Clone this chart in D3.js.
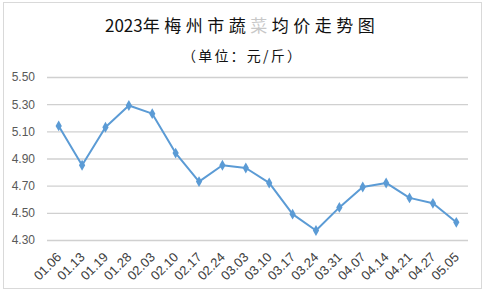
<!DOCTYPE html>
<html>
<head>
<meta charset="utf-8">
<script src="https://cdn.jsdelivr.net/npm/d3@7"></script>
<style>
  html, body { margin: 0; padding: 0; background: #fff; }
  svg { display: block; }
</style>
</head>
<body>
<div id="chart"></div>
<script>
const dates = ['01.06', '01.13', '01.19', '01.28', '02.03', '02.10', '02.17', '02.24', '03.03',
    '03.10', '03.17', '03.24', '03.31', '04.07', '04.14', '04.21', '04.27', '05.05'];
const prices = [5.14, 4.85, 5.13, 5.29, 5.23, 4.94, 4.73, 4.85, 4.83,
    4.72, 4.49, 4.37, 4.54, 4.69, 4.72, 4.61, 4.57, 4.43];
const yTicks = [4.30, 4.50, 4.70, 4.90, 5.10, 5.30, 5.50];

const width = 485;
const height = 293;
const margins = { left: 47, right: 17, top: 77, bottom: 53 };

const svg = d3.select('#chart')
    .append('svg')
    .attr('width', width)
    .attr('height', height);

svg.append('rect')
    .attr('x', 3.5)
    .attr('y', 2.5)
    .attr('width', 478)
    .attr('height', 286)
    .attr('fill', '#fff')
    .attr('stroke', '#d9d9d9');

// title, the 菜 glyph is washed out in the original
const title = svg.append('text')
    .attr('x', 105)
    .attr('y', 32)
    .style('font-family', '"Noto Sans CJK SC", sans-serif')
    .style('font-size', '17px')
    .attr('fill', '#111');
title.append('tspan').text('2023年');
title.append('tspan').attr('dx', 4.5).style('letter-spacing', '4.5px').text('梅州市蔬');
title.append('tspan').attr('fill', '#c8c8c8').style('letter-spacing', '4.5px').text('菜');
title.append('tspan').style('letter-spacing', '4.5px').text('均价走势图');

svg.append('text')
    .attr('x', 182)
    .attr('y', 61)
    .style('font-family', '"Noto Sans CJK SC", sans-serif')
    .style('font-size', '14px')
    .style('letter-spacing', '2.2px')
    .attr('fill', '#111')
    .text('（单位：元/斤）');

const chartWidth = width - margins.left - margins.right;

const chart = svg.append('g')
    .attr('transform', `translate(${margins.left}, ${margins.top})`);

const xScale = d3.scalePoint()
    .domain(dates)
    .range([0, chartWidth])
    .padding(0.5);

const yScale = d3.scaleLinear()
    .domain([4.30, 5.50])
    .range([163, 0]);

const yGridLines = d3.axisLeft()
    .scale(yScale)
    .tickValues(yTicks)
    .tickSize(-chartWidth)
    .tickFormat('');

chart.append('g')
    .call(yGridLines)
    .call(g => g.select('.domain').remove())
    .call(g => g.selectAll('line').attr('stroke', '#d0d0d0').attr('stroke-width', 1.3));

const yAxis = d3.axisLeft()
    .scale(yScale)
    .tickValues(yTicks)
    .tickSize(0)
    .tickPadding(12)
    .tickFormat(d3.format('.2f'));

chart.append('g')
    .call(yAxis)
    .call(g => g.select('.domain').remove())
    .call(g => g.selectAll('text')
        .attr('fill', '#595959')
        .style('font-family', '"Liberation Sans", Arial, sans-serif')
        .style('font-size', '12px'));

const xAxis = d3.axisBottom()
    .scale(xScale)
    .tickSize(0);

chart.append('g')
    .attr('transform', `translate(0, ${yScale(4.30)})`)
    .call(xAxis)
    .call(g => g.select('.domain').remove())
    .call(g => g.selectAll('text')
        .attr('fill', '#404040')
        .style('font-family', '"Liberation Sans", Arial, sans-serif')
        .style('font-size', '13px')
        .attr('text-anchor', 'end')
        .attr('dy', null)
        .attr('y', 0)
        .attr('transform', 'translate(3, 18) rotate(-45)'));

chart.append('path')
    .datum(prices)
    .attr('fill', 'none')
    .attr('stroke', '#5b9bd5')
    .attr('stroke-width', 2)
    .attr('stroke-linejoin', 'round')
    .attr('d', d3.line()
        .x((d, i) => xScale(dates[i]))
        .y(d => yScale(d)));

chart.append('g')
    .selectAll('path')
    .data(prices)
    .enter()
    .append('path')
    .attr('transform', (d, i) => `translate(${xScale(dates[i])}, ${yScale(d)})`)
    .attr('d', d3.symbol().type(d3.symbolDiamond).size(34))
    .attr('fill', '#5b9bd5');
</script>
</body>
</html>
